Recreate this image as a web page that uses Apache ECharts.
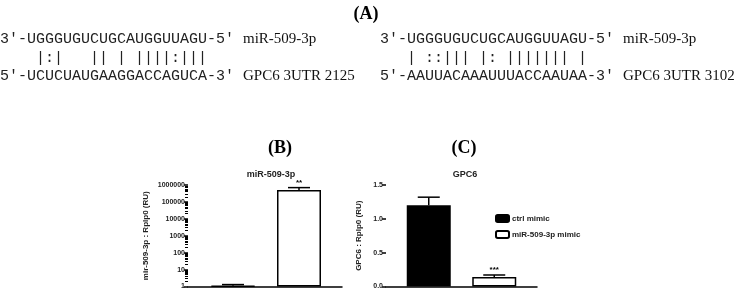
<!DOCTYPE html>
<html>
<head>
<meta charset="utf-8">
<script src="https://cdn.jsdelivr.net/npm/echarts@6.0.0/dist/echarts.min.js"></script>
<style>
    html, body { margin: 0; padding: 0; background: #fff; }
    #chart { width: 740px; height: 290px; }
</style>
</head>
<body>
<div id="chart"></div>
<script>
// groups and values
const groups = ["ctrl mimic", "miR-509-3p mimic"];
const mirMean = [1.1, 500000];
const mirUpper = [1.3, 700000];
const mirSig = ["", "**"];
const gpcMean = [1.2, 0.14];
const gpcUpper = [1.32, 0.17];
const gpcSig = ["", "***"];

// panel A: pairing of miR-509-3p with the two GPC6 3'UTR sites
const mirSeq = "3′-UGGGUGUCUGCAUGGUUAGU-5′";
const site1Pairs = "    |:|   || | ||||:|||";
const site1Seq = "5′-UCUCUAUGAAGGACCAGUCA-3′";
const site2Pairs = "   | ::||| |: ||||||| |";
const site2Seq = "5′-AAUUACAAAUUUACCAAUAA-3′";

const mono = "15px 'Liberation Mono', 'Courier New', monospace";
const serif = "15px 'Liberation Serif', 'Times New Roman', serif";
const sans = "'Liberation Sans', Arial, sans-serif";

function seqBlock(x, pairs, seq, site) {
    return [
        { type: "text", left: x, top: 32, style: { text: mirSeq, font: mono, fill: "#222" } },
        { type: "text", left: x + 243, top: 32, style: { text: "miR-509-3p", font: serif, fill: "#111" } },
        { type: "text", left: x, top: 51, style: { text: pairs, font: mono, fill: "#222" } },
        { type: "text", left: x, top: 69, style: { text: seq, font: mono, fill: "#222" } },
        { type: "text", left: x + 243, top: 69, style: { text: site, font: serif, fill: "#111" } },
    ];
}

function errorBars(xAxisIndex, yAxisIndex, mean, upper, sig) {
    return {
        type: "custom",
        xAxisIndex,
        yAxisIndex,
        z: 5,
        silent: true,
        data: mean.map((m, i) => [i, upper[i], m]),
        renderItem: (params, api) => {
            const i = api.value(0);
            const lo = api.coord([i, api.value(2)]);
            const hi = api.coord([i, api.value(1)]);
            const line = { stroke: "#000", lineWidth: 1.5 };
            return {
                type: "group",
                children: [
                    { type: "line", shape: { x1: lo[0], y1: lo[1], x2: hi[0], y2: hi[1] }, style: line },
                    { type: "line", shape: { x1: hi[0] - 11, y1: hi[1], x2: hi[0] + 11, y2: hi[1] }, style: line },
                    {
                        type: "text",
                        style: {
                            text: sig[i], x: hi[0], y: hi[1] - 1,
                            align: "center", verticalAlign: "bottom",
                            font: "bold 8px " + sans, fill: "#000",
                        },
                    },
                ],
            };
        },
    };
}

const axisLine = { lineStyle: { color: "#000", width: 1.5 } };
const tickLabel = { color: "#222", fontSize: 7, fontWeight: "bold", fontFamily: sans, margin: 3 };
const nameStyle = { color: "#222", fontSize: 8, fontWeight: "bold", fontFamily: sans };
const panelTitle = { fontSize: 18, fontWeight: "bold", fontFamily: "Liberation Serif", color: "#000" };
const chartTitle = { fontSize: 9, fontWeight: "bold", fontFamily: sans, color: "#222" };

const option = {
    animation: false,
    backgroundColor: "#fff",
    title: [
        { text: "(A)", left: 361, top: 0, textAlign: "center", textStyle: panelTitle },
        { text: "(B)", left: 275, top: 134, textAlign: "center", textStyle: panelTitle },
        { text: "miR-509-3p", left: 266, top: 165, textAlign: "center", textStyle: chartTitle },
        { text: "(C)", left: 459, top: 134, textAlign: "center", textStyle: panelTitle },
        { text: "GPC6", left: 460, top: 165, textAlign: "center", textStyle: chartTitle },
    ],
    graphic: [
        ...seqBlock(0, site1Pairs, site1Seq, "GPC6 3UTR 2125"),
        ...seqBlock(380, site2Pairs, site2Seq, "GPC6 3UTR 3102"),
    ],
    legend: {
        data: groups,
        orient: "vertical",
        left: 490,
        top: 209,
        itemWidth: 13,
        itemHeight: 7,
        itemGap: 7,
        textStyle: { fontSize: 8, fontWeight: "bold", fontFamily: sans, color: "#222", padding: [0, 0, 0, -2] },
    },
    // bar grids (0, 1) and full-width baseline grids (2, 3)
    grid: [
        { left: 200, top: 185, width: 132, height: 102 },
        { left: 396, top: 185, width: 131, height: 102 },
        { left: 188, top: 185, width: 154, height: 102 },
        { left: 386, top: 185, width: 151, height: 102 },
    ],
    xAxis: [
        { gridIndex: 0, type: "category", data: groups, axisLine: { show: false }, axisTick: { show: false }, axisLabel: { show: false } },
        { gridIndex: 1, type: "category", data: groups, axisLine: { show: false }, axisTick: { show: false }, axisLabel: { show: false } },
        { gridIndex: 2, type: "category", data: groups, axisLine, axisTick: { show: false }, axisLabel: { show: false } },
        { gridIndex: 3, type: "category", data: groups, axisLine, axisTick: { show: false }, axisLabel: { show: false } },
    ],
    yAxis: [
        {
            gridIndex: 0,
            type: "log",
            logBase: 10,
            min: 1,
            max: 1000000,
            offset: 12,
            name: "mir-509-3p : Rplp0 (RU)",
            nameLocation: "middle",
            nameGap: 38,
            nameTextStyle: nameStyle,
            axisLine,
            axisTick: { show: true, length: 4, lineStyle: { color: "#000", width: 1.5 } },
            minorTick: { show: true, splitNumber: 9, length: 3, lineStyle: { color: "#000", width: 1 } },
            axisLabel: { ...tickLabel, formatter: (v) => String(Math.round(v)) },
            splitLine: { show: false },
        },
        {
            gridIndex: 1,
            type: "value",
            min: 0,
            max: 1.5,
            interval: 0.5,
            offset: 10,
            name: "GPC6 : Rplp0 (RU)",
            nameLocation: "middle",
            nameGap: 23,
            nameTextStyle: nameStyle,
            axisLine,
            axisTick: { show: true, length: 4, lineStyle: { color: "#000", width: 1.5 } },
            axisLabel: { ...tickLabel, formatter: (v) => v.toFixed(1) },
            splitLine: { show: false },
        },
        { gridIndex: 2, type: "value", show: false },
        { gridIndex: 3, type: "value", show: false },
    ],
    series: [
        {
            name: groups[0], type: "bar", xAxisIndex: 0, yAxisIndex: 0, barWidth: 44, barGap: "-100%",
            itemStyle: { color: "#000", borderColor: "#000", borderWidth: 1.5 },
            data: [mirMean[0], "-"],
        },
        {
            name: groups[1], type: "bar", xAxisIndex: 0, yAxisIndex: 0, barWidth: 44, barGap: "-100%",
            itemStyle: { color: "#fff", borderColor: "#000", borderWidth: 1.5 },
            data: ["-", mirMean[1]],
        },
        {
            name: groups[0], type: "bar", xAxisIndex: 1, yAxisIndex: 1, barWidth: 44, barGap: "-100%",
            itemStyle: { color: "#000", borderColor: "#000", borderWidth: 1.5 },
            data: [gpcMean[0], "-"],
        },
        {
            name: groups[1], type: "bar", xAxisIndex: 1, yAxisIndex: 1, barWidth: 44, barGap: "-100%",
            itemStyle: { color: "#fff", borderColor: "#000", borderWidth: 1.5 },
            data: ["-", gpcMean[1]],
        },
        errorBars(0, 0, mirMean, mirUpper, mirSig),
        errorBars(1, 1, gpcMean, gpcUpper, gpcSig),
    ],
};

const chart = echarts.init(document.getElementById("chart"), null, { renderer: "canvas" });
chart.setOption(option);
</script>
</body>
</html>
